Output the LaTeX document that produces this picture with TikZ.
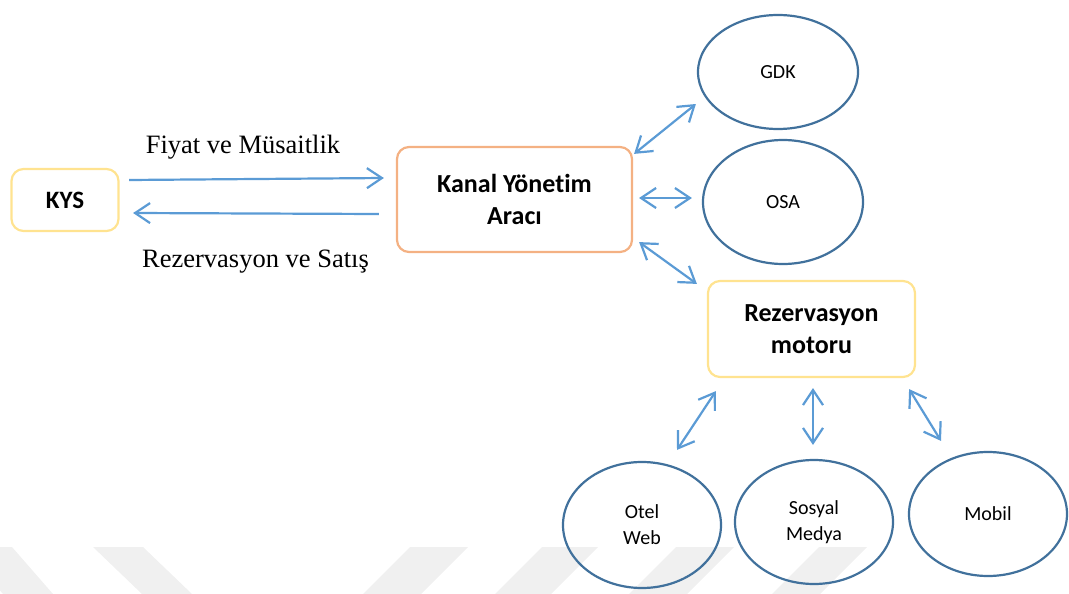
\documentclass[tikz,border=0pt]{standalone}
\usepackage{fontspec}
\setmainfont{Liberation Serif}
\newfontfamily\calib[Ligatures=NoCommon]{Carlito}
\usetikzlibrary{shapes.geometric,arrows.meta,calc}
\definecolor{arrowblue}{HTML}{5B9BD5}
\definecolor{ovalblue}{HTML}{41719C}
\definecolor{boxyellow}{HTML}{FFE390}
\definecolor{boxorange}{HTML}{F4B183}
\definecolor{wmgray}{HTML}{F0F0F0}

\begin{document}
\begin{tikzpicture}[x=1pt,y=-1pt,
  sysbox/.style={draw, rounded corners=12pt, line width=2.2pt, align=center,
    inner sep=0pt, font=\calib\bfseries\fontsize{26}{32}\selectfont},
  oval/.style={ellipse, draw=ovalblue, line width=2.2pt, inner sep=0pt,
    align=center, font=\calib\fontsize{20}{26}\selectfont},
  flow/.style={draw=arrowblue, line width=2.2pt, -{Straight Barb[length=15pt,width=20pt]}},
  both/.style={draw=arrowblue, line width=2.2pt,
    {Straight Barb[length=15pt,width=20pt]}-{Straight Barb[length=15pt,width=20pt]}},
  flowlabel/.style={anchor=base, font=\fontsize{26.5}{30}\selectfont, inner sep=0pt},
  wmstripe/.style={fill=wmgray, draw=none}
]
\useasboundingbox (0,0) rectangle (1069,594);

% faint chevron stripes along the bottom edge
\begin{scope}
  \clip (0,0) rectangle (1069,594);
  \fill[wmstripe] (-38,547) -- (12,547) -- (53,594) -- (3,594) -- cycle;
  \fill[wmstripe] (93,547) -- (143,547) -- (192,594) -- (142,594) -- cycle;
  \fill[wmstripe] (410,547) -- (468,547) -- (421,594) -- (363,594) -- cycle;
  \fill[wmstripe] (542,547) -- (598,547) -- (551,594) -- (495,594) -- cycle;
  \fill[wmstripe] (676,547) -- (734,547) -- (687,594) -- (629,594) -- cycle;
  \fill[wmstripe] (819,547) -- (867,547) -- (820,594) -- (772,594) -- cycle;
\end{scope}

% systems
\node[sysbox, draw=boxyellow, minimum width=107pt, minimum height=62pt,
  font=\calib\bfseries\fontsize{25}{30}\selectfont] (kys) at (65,200) {KYS};
\node[sysbox, draw=boxorange, minimum width=235pt, minimum height=105pt]
  (kanal) at (514.5,199.5) {Kanal Yönetim\\Aracı};
\node[sysbox, draw=boxyellow, minimum width=207pt, minimum height=96pt]
  (rez) at (811.5,329) {Rezervasyon\\motoru};

% channels
\node[oval, minimum width=160pt, minimum height=114pt] (gdk) at (778,72) {GDK};
\node[oval, minimum width=160pt, minimum height=124pt] (osa) at (783,202) {OSA};
\node[oval, minimum width=158pt, minimum height=126pt] (otel) at (642,525) {Otel\\Web};
\node[oval, minimum width=158pt, minimum height=124pt] (sosyal) at (814,522) {Sosyal\\Medya};
\node[oval, minimum width=158pt, minimum height=124pt] (mobil) at (988,514) {Mobil};

% KYS <-> channel manager
\draw[flow] ($(kys.east)+(9.5,-20)$) -- ($(kanal.west)+(-12,-21.5)$);
\draw[flow] ($(kanal.west)+(-17,14.5)$) -- ($(kys.east)+(13.5,13)$);
\node[flowlabel] (lblup) at (243,153) {Fiyat ve Müsaitlik};
\node[flowlabel] (lbldown) at (255.5,267) {Rezervasyon ve Satış};

% channel manager <-> distribution
\draw[both] ($(kanal.north east)+(1,8)$) -- ($(gdk.west)+(-1,32)$);
\draw[both] ($(kanal.east)+(6,-1.5)$) -- ($(osa.west)+(-10,-4)$);
\draw[both] ($(kanal.south east)+(6,-11)$) -- ($(rez.north west)+(-10,4)$);

% booking engine <-> sales channels
\draw[both] ($(rez.south west)+(9,13)$) -- ($(otel.north)+(35,-11)$);
\draw[both] ($(rez.south)+(1.5,10)$) -- ($(sosyal.north)+(-1,-14)$);
\draw[both] ($(rez.south east)+(-7,11)$) -- ($(mobil.north)+(-47,-10)$);
\end{tikzpicture}
\end{document}
